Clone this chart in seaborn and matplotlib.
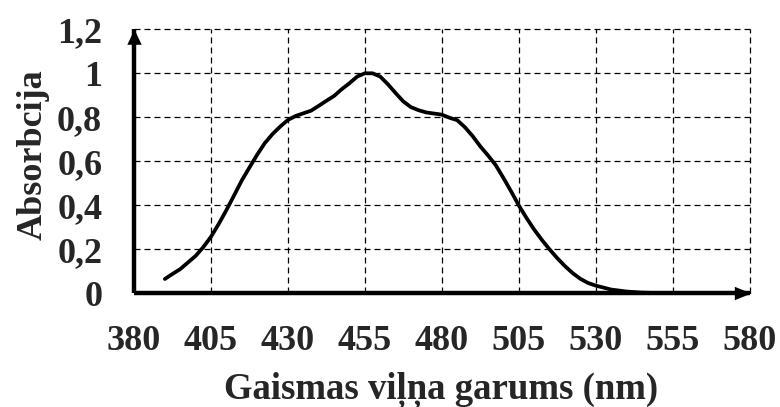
import numpy as np
import pandas as pd
import seaborn as sns
import matplotlib.pyplot as plt
from matplotlib.path import Path

# Absorption spectrum (wavelength in nm, relative absorbance)
wavelength = [390, 392.5, 395, 397.5, 400, 402.5, 405, 407.5, 410, 412.5,
              415, 417.5, 420, 422.5, 425, 427.5, 430, 432.5, 435, 437.5,
              440, 442.5, 445, 447.5, 450, 452.5, 455, 457.5, 460, 462.5,
              465, 467.5, 470, 472.5, 475, 477.5, 480, 482.5, 485, 487.5,
              490, 492.5, 495, 497.5, 500, 502.5, 505, 507.5, 510, 512.5,
              515, 517.5, 520, 522.5, 525, 527.5, 530, 535, 540, 545,
              550, 555]
absorbance = [0.065, 0.088, 0.11, 0.14, 0.17, 0.21, 0.257, 0.315, 0.378, 0.445,
              0.513, 0.572, 0.63, 0.683, 0.724, 0.758, 0.788, 0.806, 0.818, 0.83,
              0.852, 0.875, 0.897, 0.928, 0.955, 0.985, 1.0, 1.0, 0.985, 0.95,
              0.91, 0.872, 0.846, 0.832, 0.822, 0.817, 0.812, 0.798, 0.787, 0.755,
              0.715, 0.668, 0.627, 0.583, 0.525, 0.464, 0.40, 0.343, 0.29, 0.243,
              0.2, 0.16, 0.124, 0.092, 0.066, 0.047, 0.035, 0.017, 0.008, 0.003,
              0.001, 0.0]

x_ticks = [380, 405, 430, 455, 480, 505, 530, 555, 580]
y_ticks = [0, 0.2, 0.4, 0.6, 0.8, 1.0, 1.2]
y_tick_labels = ["0", "0,2", "0,4", "0,6", "0,8", "1", "1,2"]

x_label = "Gaismas viļņa garums (nm)"
y_label = "Absorbcija"

sns.set_theme(style="white")
plt.rcParams["font.family"] = ["Liberation Serif", "DejaVu Serif"]
plt.rcParams["font.weight"] = "bold"

fig = plt.figure(figsize=(7.8, 4.07), dpi=100)
ax = fig.add_axes([0.1719, 0.2794, 0.789, 0.6486])

df = pd.DataFrame({"wavelength": wavelength, "absorbance": absorbance})
sns.lineplot(data=df, x="wavelength", y="absorbance", ax=ax,
             color="black", linewidth=2.7, zorder=5)
ax.lines[-1].set_solid_capstyle("round")
ax.lines[-1].set_solid_joinstyle("round")

ax.set_xlim(380, 580)
ax.set_ylim(0, 1.2)
ax.set_xticks(x_ticks)
ax.set_yticks(y_ticks, y_tick_labels)
ax.tick_params(length=0, pad=23, labelsize=26)
for lbl in ax.get_xticklabels() + ax.get_yticklabels():
    lbl.set_fontweight("bold")
ax.set_xlabel("")
ax.set_ylabel("")

ax.grid(True, color="black", linestyle=(0, (4.8, 3.2)), linewidth=0.9)
for gl in ax.get_xgridlines() + ax.get_ygridlines():
    gl.set_clip_on(False)

for side in ("top", "right"):
    ax.spines[side].set_visible(False)
for side in ("left", "bottom"):
    ax.spines[side].set_color("black")
    ax.spines[side].set_linewidth(3.2)
    ax.spines[side].set_zorder(6)
    ax.spines[side].set_capstyle("butt")

# arrowheads on the axes
right_head = Path([(0, 0), (-1, 0.4), (-1, -0.4), (0, 0)],
                  [Path.MOVETO, Path.LINETO, Path.LINETO, Path.CLOSEPOLY])
up_head = Path([(0, 0), (-0.47, -1), (0.47, -1), (0, 0)],
               [Path.MOVETO, Path.LINETO, Path.LINETO, Path.CLOSEPOLY])
ax.plot([1.003], [0], marker=right_head, markersize=24, color="black",
        markeredgewidth=0, transform=ax.transAxes, clip_on=False, zorder=7)
ax.plot([0], [1.0], marker=up_head, markersize=22, color="black",
        markeredgewidth=0, transform=ax.transAxes, clip_on=False, zorder=7)

fig.text(441.5 / 780, (407 - 398.5) / 407, x_label, ha="center",
         va="baseline", fontsize=26.5, fontweight="bold")
fig.text(33 / 780, (407 - 155) / 407, y_label, ha="center", va="center",
         rotation=90, fontsize=26, fontweight="bold")

fig.savefig("out.png", dpi=100, facecolor="white")
